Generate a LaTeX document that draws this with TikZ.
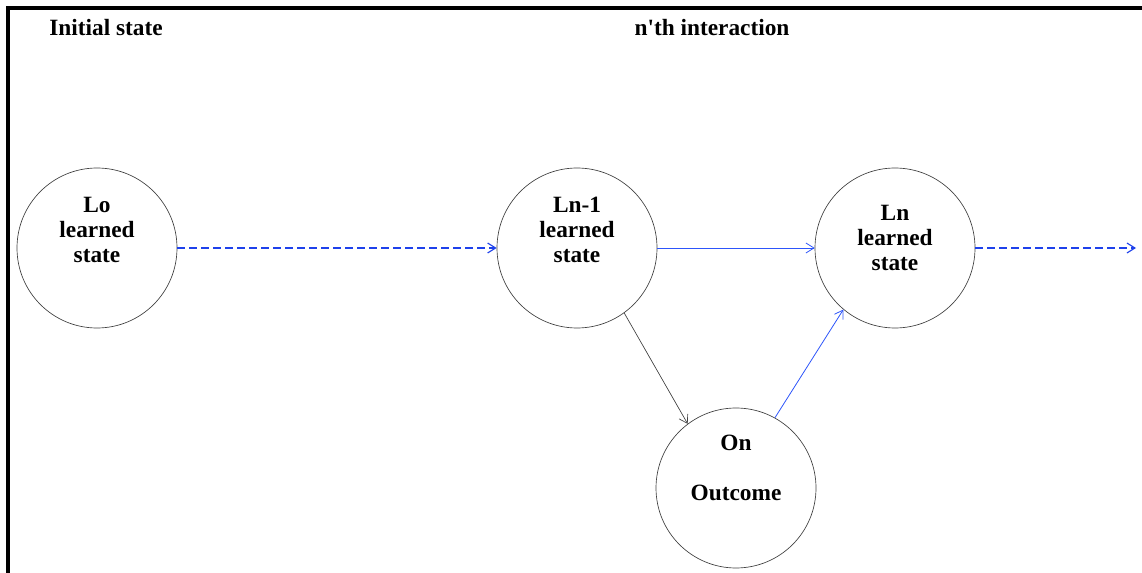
\documentclass[tikz,border=0pt]{standalone}
\usepackage{fontspec}
\setmainfont{Liberation Serif}[Ligatures=TeXOff]
\usetikzlibrary{arrows.meta}
\definecolor{lblue}{RGB}{45,85,250}
\definecolor{dblue}{RGB}{30,65,235}
\begin{document}
\begin{tikzpicture}[x=0.75pt,y=-0.75pt,
  state/.style={circle,draw=black!75,line width=0.5pt,minimum size=120pt,inner sep=0pt},
  txt/.style={align=center,inner sep=0pt,font=\bfseries\fontsize{17.5}{18.75}\selectfont},
  lbl/.style={font=\bfseries\fontsize{17.5}{19}\selectfont,inner sep=0pt},
  tip/.style={-{Straight Barb[length=6pt,width=7.5pt]}},
  flow/.style={tip,draw=lblue,line width=0.6pt},
  dflow/.style={tip,draw=dblue,line width=0.85pt,dash pattern=on 6pt off 3pt}]
\useasboundingbox (0,0) rectangle (1142,573);
\draw[line width=2.4pt] (8,573) -- (8,8) -- (1142,8);
\node[lbl] (t1) at (106,28) {Initial state};
\node[lbl] (t2) at (712,28) {n'th interaction};
\node[state] (L0) at (97,248) {};
\node[state] (L1) at (577,248) {};
\node[state] (Ln) at (895,248) {};
\node[state] (On) at (736,488) {};
\node[txt] (L0t) at (97,229.5) {Lo\\learned\\state};
\node[txt] (L1t) at (577,230) {Ln-1\\learned\\state};
\node[txt] (Lnt) at (895,237.5) {Ln\\learned\\state};
\node[txt] (Ont) at (736,467.5) {On\\[18.75pt]Outcome};
\coordinate (end) at (1136,248);
\draw[dflow] (L0) -- (L1);
\draw[flow] (L1) -- (Ln);
\draw[dflow] (Ln) -- (end);
\draw[tip,draw=black!75,line width=0.5pt] (L1.-54) -- (On.127);
\draw[flow] (On.61) -- (Ln.-130);
\end{tikzpicture}
\end{document}
